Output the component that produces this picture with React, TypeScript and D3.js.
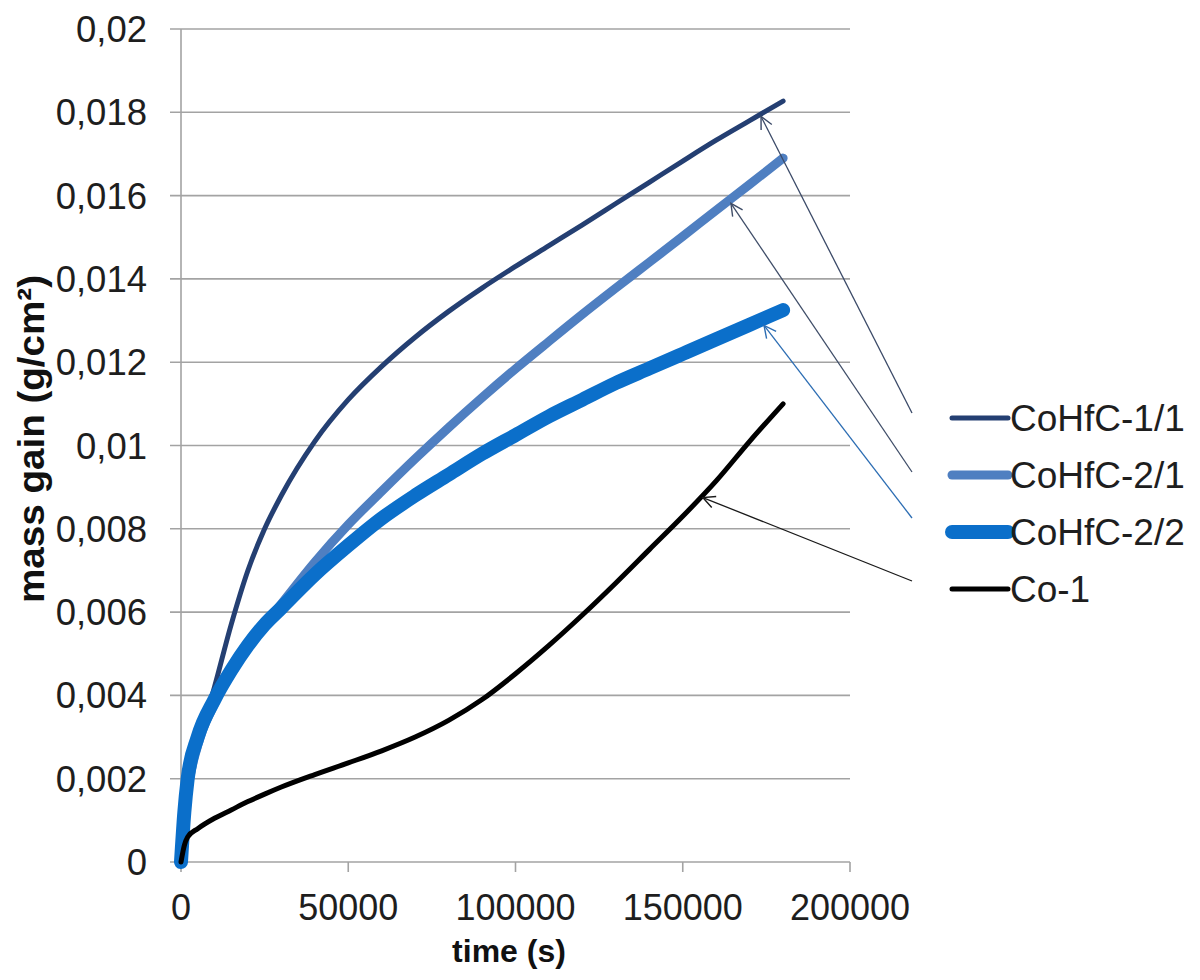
import React from "react";
import * as d3 from "d3";

// time (s) sampled along the curves
const times = [0, 1000, 2000, 5000, 10000, 15000, 20000, 25000, 30000, 40000, 50000, 60000, 70000, 80000, 90000, 100000, 110000, 120000, 130000, 140000, 150000, 160000, 170000, 180000];

// mass gain (g/cm2)
const cohfc11 = [0, 0.0009, 0.0015, 0.0028, 0.0042, 0.0057, 0.007, 0.008, 0.0088, 0.0101, 0.0111, 0.0119, 0.0126, 0.01322, 0.01378, 0.0143, 0.0148, 0.0153, 0.01581, 0.01632, 0.01683, 0.01733, 0.0178, 0.01827];
const cohfc21 = [0, 0.001, 0.0017, 0.0028, 0.0038, 0.0046, 0.0052, 0.0057, 0.0062, 0.0072, 0.0081, 0.0089, 0.00968, 0.01043, 0.01115, 0.01184, 0.0125, 0.01315, 0.01378, 0.0144, 0.01502, 0.01565, 0.01627, 0.0169];
const cohfc22 = [0, 0.0012, 0.002, 0.003, 0.0039, 0.0046, 0.0052, 0.0057, 0.0061, 0.0069, 0.0076, 0.00825, 0.0088, 0.0093, 0.0098, 0.01025, 0.0107, 0.0111, 0.0115, 0.01185, 0.0122, 0.01255, 0.0129, 0.01325];
const co1 = [0, 0.0004, 0.0006, 0.0008, 0.00105, 0.00125, 0.00145, 0.00163, 0.0018, 0.0021, 0.00238, 0.00267, 0.003, 0.0034, 0.0039, 0.00452, 0.0052, 0.00593, 0.0067, 0.0075, 0.0083, 0.00915, 0.0101, 0.011];

const seriesNames = ["CoHfC-1/1", "CoHfC-2/1", "CoHfC-2/2", "Co-1"];
const seriesValues = [cohfc11, cohfc21, cohfc22, co1];
const seriesColors = ["#243f72", "#4f7fc1", "#0b6fca", "#000000"];
const seriesWidths = [5, 9, 14, 5];

// where each arrow touches its curve (time, s)
const arrowTimes = [173400, 164400, 174300, 156000];
const arrowColors = ["#3b4a68", "#3f4d68", "#2c6db3", "#1a1a1a"];

const xTicks = [0, 50000, 100000, 150000, 200000];
const yTicks = [0, 0.002, 0.004, 0.006, 0.008, 0.01, 0.012, 0.014, 0.016, 0.018, 0.02];

const FONT = "'Liberation Sans', Arial, sans-serif";
const comma = d3.formatLocale({ decimal: ",", thousands: ".", grouping: [3], currency: ["", ""] });
const fmtY = comma.format(".2~r");

const App = () => {
  const width = 1200;
  const height = 980;
  const margin = { top: 29, left: 181, bottom: 118, right: 350 };

  const x = d3.scaleLinear().domain([0, 200000]).range([margin.left, width - margin.right]);
  const y = d3.scaleLinear().domain([0, 0.02]).range([height - margin.bottom, margin.top]);

  const line = d3
    .line<number>()
    .x((_, i) => x(times[i]))
    .y((d) => y(d))
    .curve(d3.curveMonotoneX);

  const valueAt = (vals: number[], t: number) => {
    const i = Math.min(d3.bisectRight(times, t), times.length - 1);
    const t0 = times[i - 1];
    const t1 = times[i];
    return vals[i - 1] + ((vals[i] - vals[i - 1]) * (t - t0)) / (t1 - t0);
  };

  const x0 = x(0);
  const x1 = x(200000);
  const yBase = y(0);

  // legend layout
  const legX = 952;
  const legLen = 56;
  const legTop = 418;
  const legStep = 57;
  const tailX = 912;
  const tailDy = [-5, -3, -14, -8];

  return (
    <svg
      width={width}
      height={height}
      style={{ position: "absolute", left: 0, top: 0, background: "#fff" }}
    >
      <defs>
        {arrowColors.map((c, i) => (
          <marker
            key={i}
            id={`arr${i}`}
            markerUnits="userSpaceOnUse"
            markerWidth={16}
            markerHeight={16}
            refX={13}
            refY={7}
            orient="auto"
          >
            <path d="M1,1 L13,7 L1,13" fill="none" stroke={c} strokeWidth={1.4} />
          </marker>
        ))}
      </defs>

      {/* grid */}
      {yTicks.map((t) => (
        <line key={t} x1={x0 - 11} x2={x1} y1={y(t)} y2={y(t)} stroke="#a3a3a3" strokeWidth={1.6} />
      ))}
      <line x1={x0} x2={x0} y1={y(0.02)} y2={yBase} stroke="#a3a3a3" strokeWidth={1.6} />
      {xTicks.map((t) => (
        <line key={t} x1={x(t)} x2={x(t)} y1={yBase} y2={yBase + 10} stroke="#a3a3a3" strokeWidth={1.6} />
      ))}

      {/* tick labels */}
      {yTicks.map((t) => (
        <text
          key={t}
          x={147}
          y={y(t) + 13}
          textAnchor="end"
          fontFamily={FONT}
          fontSize={36.5}
          fill="#1e1e1e"
        >
          {fmtY(t)}
        </text>
      ))}
      {xTicks.map((t) => (
        <text
          key={t}
          x={x(t)}
          y={920}
          textAnchor="middle"
          fontFamily={FONT}
          fontSize={36}
          fill="#1e1e1e"
        >
          {t}
        </text>
      ))}

      {/* axis titles */}
      <text
        x={509}
        y={962}
        textAnchor="middle"
        fontFamily={FONT}
        fontSize={32}
        fontWeight="bold"
        fill="#111"
      >
        time (s)
      </text>
      <text
        transform={`translate(44,439) rotate(-90)`}
        textAnchor="middle"
        fontFamily={FONT}
        fontSize={37}
        fontWeight="bold"
        textLength={328}
        lengthAdjust="spacingAndGlyphs"
        fill="#111"
      >
        mass gain (g/cm²)
      </text>

      {/* series */}
      {seriesValues.map((vals, i) => (
        <path
          key={seriesNames[i]}
          d={line(vals) || ""}
          fill="none"
          stroke={seriesColors[i]}
          strokeWidth={seriesWidths[i]}
          strokeLinecap="round"
          strokeLinejoin="round"
        />
      ))}

      {/* arrows from legend to curves */}
      {seriesValues.map((vals, i) => {
        const t = arrowTimes[i];
        const tipX = x(t);
        const tipY = y(valueAt(vals, t)) + seriesWidths[i] / 2;
        const ty = legTop + i * legStep + tailDy[i];
        return (
          <line
            key={i}
            x1={tailX}
            y1={ty}
            x2={tipX}
            y2={tipY}
            stroke={arrowColors[i]}
            strokeWidth={1.3}
            markerEnd={`url(#arr${i})`}
          />
        );
      })}

      {/* legend */}
      {seriesNames.map((name, i) => {
        const ly = legTop + i * legStep;
        return (
          <g key={name}>
            <line
              x1={legX}
              x2={legX + legLen}
              y1={ly}
              y2={ly}
              stroke={seriesColors[i]}
              strokeWidth={seriesWidths[i]}
              strokeLinecap="round"
            />
            <text
              x={legX + legLen + 2}
              y={ly + 13}
              fontFamily={FONT}
              fontSize={37}
              fill="#1e1e1e"
            >
              {name}
            </text>
          </g>
        );
      })}
    </svg>
  );
};

export default App;
